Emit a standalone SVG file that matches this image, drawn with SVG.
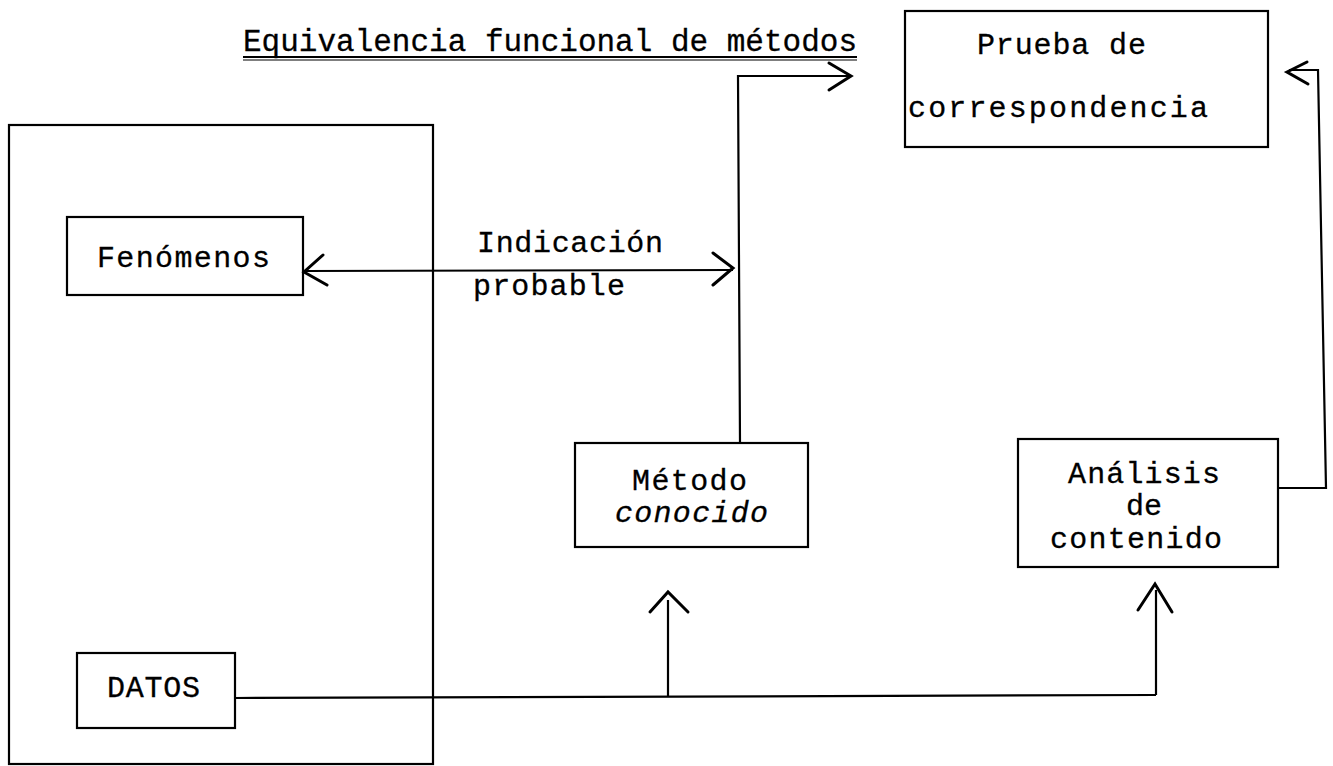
<svg xmlns="http://www.w3.org/2000/svg" width="1333" height="766" viewBox="0 0 1333 766">
<defs>
<style>
.box{fill:none;stroke:#000;stroke-width:2.2}
.ln{fill:none;stroke:#000;stroke-width:2.2}
.ah{fill:none;stroke:#000;stroke-width:3;stroke-linecap:round;stroke-linejoin:miter}
.t{font-family:"Liberation Mono","Courier New",monospace;font-size:30px;fill:#000;stroke:#000;stroke-width:0.3}
.title{font-size:31px}
</style>
</defs>
<rect width="1333" height="766" fill="#fff"/>
<g id="title">
<text class="t title" x="243" y="51" textLength="614" lengthAdjust="spacing">Equivalencia funcional de métodos</text>
<line x1="243" y1="57" x2="857" y2="57" stroke="#000" stroke-width="2.2"/>
<line x1="243" y1="60" x2="857" y2="60" stroke="#000" stroke-width="1"/>
</g>
<g id="outer">
<rect class="box" x="9" y="125" width="424" height="639"/>
</g>
<g id="fenomenos">
<rect class="box" x="67" y="217" width="236" height="78"/>
<text class="t" x="97" y="267" textLength="173" lengthAdjust="spacing">Fenómenos</text>
</g>
<g id="datos">
<rect class="box" x="77" y="653" width="158" height="75"/>
<text class="t" x="107" y="697" textLength="93" lengthAdjust="spacing">DATOS</text>
</g>
<g id="metodo">
<rect class="box" x="575" y="443" width="233" height="104"/>
<text class="t" x="632" y="490" textLength="115" lengthAdjust="spacing">Método</text>
<text class="t" x="615" y="522" textLength="153" lengthAdjust="spacing" font-style="italic">conocido</text>
</g>
<g id="analisis">
<rect class="box" x="1018" y="439" width="260" height="128"/>
<text class="t" x="1068" y="483" textLength="152" lengthAdjust="spacing">Análisis</text>
<text class="t" x="1126" y="515">de</text>
<text class="t" x="1050" y="548" textLength="172" lengthAdjust="spacing">contenido</text>
</g>
<g id="prueba">
<rect class="box" x="905" y="11" width="363" height="136"/>
<text class="t" x="977" y="54" textLength="169" lengthAdjust="spacing">Prueba de</text>
<text class="t" x="908" y="117" textLength="300" lengthAdjust="spacing">correspondencia</text>
</g>
<g id="indicacion">
<text class="t" x="477" y="252" textLength="186" lengthAdjust="spacing">Indicación</text>
<text class="t" x="473" y="295" textLength="152" lengthAdjust="spacing">probable</text>
</g>
<g id="connectors">
<line class="ln" x1="304" y1="271" x2="733" y2="270"/>
<polyline class="ah" points="323,255 304,272 327,285"/>
<polyline class="ah" points="713,253 733,268 713,285"/>
<polyline class="ln" points="740,443 738,76 850,76"/>
<polyline class="ah" points="829,63 851,76 829,90" stroke-width="5"/>
<polyline class="ln" points="1278,488 1326,488 1318,70 1289,70"/>
<polyline class="ah" points="1307,62 1287,72 1308,84"/>
<polyline class="ln" points="235,698 1156,695"/>
<line class="ln" x1="668" y1="697" x2="668" y2="600"/>
<polyline class="ah" points="650,612 668,592 688,612"/>
<line class="ln" x1="1156" y1="695" x2="1156" y2="590"/>
<polyline class="ah" points="1138,610 1155,584 1172,612"/>
</g>
</svg>
